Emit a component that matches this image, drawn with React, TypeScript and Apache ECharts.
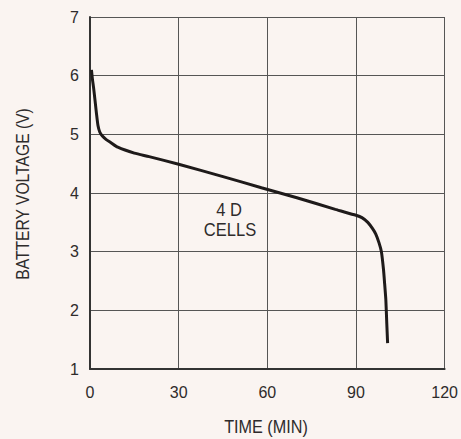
import React, { useEffect, useRef } from "react";
import * as echarts from "echarts";

const timeMin = [0.5, 0.8, 1.2, 1.7, 2.2, 2.7, 3.3, 4.2, 5.5, 7, 9.4, 15, 20, 30, 45, 58, 70, 83, 90, 92, 94, 95.5, 96.7, 97.8, 98.6, 99.3, 99.7, 100.1, 100.4, 100.7];
const voltage = [6.1, 5.95, 5.8, 5.58, 5.35, 5.15, 5.04, 4.97, 4.91, 4.86, 4.78, 4.68, 4.62, 4.49, 4.28, 4.09, 3.92, 3.72, 3.62, 3.58, 3.5, 3.4, 3.3, 3.15, 3.0, 2.7, 2.45, 2.18, 1.8, 1.44];
const xTicks = [0, 30, 60, 90, 120];
const yTicks = [1, 2, 3, 4, 5, 6, 7];
const cellLabel = ["4 D", "CELLS"];
const xTitle = "TIME (MIN)";
const yTitle = "BATTERY VOLTAGE (V)";

const FONT = "'Liberation Sans', Arial, sans-serif";
const TXT = "#2e2b2b";

export default function App() {
  const ref = useRef<HTMLDivElement>(null);
  useEffect(() => {
    if (!ref.current) return;
    const chart = echarts.init(ref.current, null, { renderer: "svg" });
    const textStyle = (text: string, size: number) => ({
      text,
      fontFamily: FONT,
      fontSize: size,
      fill: TXT,
      textAlign: "center",
      textVerticalAlign: "middle",
    });
    chart.setOption({
      animation: false,
      backgroundColor: "#faf4f1",
      grid: { left: 90, right: 15, top: 17, bottom: 70 },
      xAxis: {
        type: "value",
        min: xTicks[0],
        max: xTicks[xTicks.length - 1],
        interval: 30,
        axisLine: { show: true, lineStyle: { color: "#333", width: 2 } },
        axisTick: { show: false },
        axisLabel: { fontFamily: FONT, fontSize: 16, color: TXT, margin: 15 },
        splitLine: { show: true, lineStyle: { color: "#555", width: 1 } },
      },
      yAxis: {
        type: "value",
        min: yTicks[0],
        max: yTicks[yTicks.length - 1],
        interval: 1,
        axisLine: { show: true, lineStyle: { color: "#333", width: 2 } },
        axisTick: { show: false },
        axisLabel: { fontFamily: FONT, fontSize: 16, color: TXT, margin: 11 },
        splitLine: { show: true, lineStyle: { color: "#555", width: 1 } },
      },
      series: [
        {
          type: "line",
          data: timeMin.map((t, i) => [t, voltage[i]]),
          showSymbol: false,
          smooth: 0.2,
          lineStyle: { color: "#1e1a1a", width: 3 },
        },
      ],
      graphic: [
        { type: "text", x: 229, y: 210, scaleX: 0.87, style: textStyle(cellLabel[0], 19) },
        { type: "text", x: 230, y: 230, scaleX: 0.87, style: textStyle(cellLabel[1], 19) },
        { type: "text", x: 266, y: 427, scaleX: 0.9, style: textStyle(xTitle, 18) },
        {
          type: "text",
          x: 23,
          y: 194,
          rotation: Math.PI / 2,
          scaleX: 0.87,
          style: textStyle(yTitle, 18),
        },
      ],
    });
    return () => chart.dispose();
  }, []);
  return (
    <div
      ref={ref}
      style={{ position: "absolute", left: 0, top: 0, width: 461, height: 439 }}
    />
  );
}
